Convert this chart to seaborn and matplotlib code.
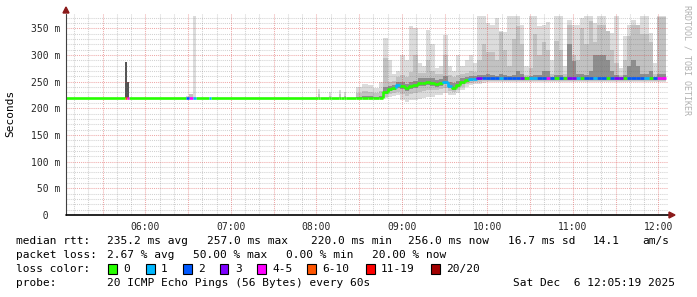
import numpy as np
import pandas as pd
import matplotlib
matplotlib.use("Agg")
import matplotlib.pyplot as plt
import seaborn as sns
from matplotlib.patches import Rectangle

# ---------------- data ----------------
# irregular segments before 08:44 : start time, median rtt (ms), lost pings (of 20), smoke percentiles (ms)
early_start = ["05:04:30", "05:45:50", "05:46:50", "05:47:20", "05:48:40", "06:28:40", "06:31:00",
               "06:33:20", "06:35:40", "06:45:00", "06:46:20", "08:01:00", "08:02:30", "08:09:00",
               "08:10:30", "08:16:00", "08:17:30", "08:19:30", "08:21:00", "08:28:00", "08:32:00",
               "08:36:00", "08:40:00"]
early_median = [220] * 23
early_loss = [0, 10, 4, 4, 0, 2, 4, 1, 0, 1, 0, 0, 0, 0, 0, 0, 0, 0, 0, 0, 0, 0, 0]
early_pmin = [220] * 23
early_p10 = [220] * 23
early_p25 = [220] * 23
early_p75 = [220, 287, 319, 250, 220, 220, 220, 220, 220, 220, 220, 220, 220, 220, 220, 220, 220, 220, 220, 222, 224, 223, 222]
early_p90 = [220, 287, 319, 250, 220, 220, 227, 220, 220, 220, 220, 226, 220, 224, 220, 226, 220, 224, 220, 228, 232, 230, 228]
early_pmax = [220, 287, 319, 250, 220, 223, 227, 374, 220, 220, 220, 236, 220, 230, 220, 234, 220, 230, 220, 240, 246, 244, 238]

# regular 3-minute bins from 08:44 to 12:05
bin_first = "08:44:00"
bin_minutes = 3
end_time = "12:05:00"
bin_median = [220, 231, 236, 238, 244, 242, 238, 242, 244, 248, 248, 249, 248, 246, 247, 250, 242, 239, 244, 250,
              253, 255, 255, 256, 257] + [256] * 42
bin_loss = [0, 0, 0, 0, 1, 0, 0, 0, 0, 0, 0, 0, 0, 0, 0, 1, 1, 0, 0, 0, 0, 1, 1, 3, 2,
            2, 2, 2, 1, 2, 2, 2, 2, 3, 0, 1, 1, 2, 2, 4, 2, 0, 2, 0, 3, 3, 1, 0, 2, 2, 1, 2, 2, 0, 2,
            3, 3, 0, 2, 2, 2, 2, 1, 0, 2, 4, 4]
bin_pmin = [219, 220, 222, 224, 225, 215, 212, 215, 215, 218, 220, 222, 222, 225, 225, 228, 225, 225, 228, 235,
            240, 244, 245, 246, 248] + [249] * 42
bin_p10 = [219, 222, 226, 228, 230, 226, 224, 226, 228, 230, 232, 234, 234, 235, 236, 238, 232, 230, 234, 240,
           245, 248, 250, 250, 252] + [252] * 42
bin_p25 = [220, 226, 232, 234, 238, 236, 232, 236, 238, 242, 242, 244, 242, 240, 242, 245, 238, 235, 240, 246,
           250, 252, 253, 254, 255] + [254] * 42
bin_p75 = [224, 240, 242, 244, 250, 250, 246, 250, 252, 256, 256, 256, 256, 254, 255, 260, 250, 248, 252, 256,
           258, 260, 260, 262, 262,
           265, 262, 260, 265, 262, 260, 262, 270, 265, 258, 260, 262, 262, 270, 270, 258, 262, 262, 258, 320,
           288, 265, 265, 262, 270, 300, 300, 300, 290, 270, 262, 258, 262, 280, 290, 280, 265, 265, 270, 258,
           265, 265]
bin_p90 = [232, 294, 250, 252, 258, 262, 258, 268, 300, 266, 266, 290, 270, 264, 265, 300, 262, 258, 262, 264,
           266, 270, 268, 290, 320,
           305, 305, 290, 343, 310, 280, 330, 355, 320, 262, 275, 340, 300, 324, 310, 265, 326, 310, 265, 357,
           300, 290, 350, 320, 363, 324, 357, 357, 345, 310, 285, 262, 290, 336, 357, 357, 340, 340, 324, 265,
           372, 372]
bin_pmax = [250, 332, 290, 265, 270, 300, 290, 355, 350, 285, 280, 347, 320, 275, 280, 337, 280, 270, 300, 280,
            290, 300, 285, 374, 374,
            360, 357, 370, 345, 343, 374, 374, 374, 356, 280, 374, 374, 354, 357, 361, 290, 374, 374, 280, 365,
            357, 357, 370, 374, 374, 360, 374, 374, 345, 341, 374, 275, 336, 357, 365, 357, 374, 374, 341, 285,
            374, 374]

loss_labels = ["0", "1", "2", "3", "4-5", "6-10", "11-19", "20/20"]
loss_colors = ["#26ff00", "#00b8ff", "#0059ff", "#7e00ff", "#ff00ff", "#ff5500", "#ff0000", "#a10000"]
y_ticks = [0, 50, 100, 150, 200, 250, 300, 350]
y_tick_labels = ["  0  ", " 50 m", "100 m", "150 m", "200 m", "250 m", "300 m", "350 m"]
x_ticks = [6, 7, 8, 9, 10, 11, 12]
x_tick_labels = ["06:00", "07:00", "08:00", "09:00", "10:00", "11:00", "12:00"]

# ---------------- assemble ----------------
def hrs(s):
    h, m, sec = map(int, s.split(":"))
    return h + m / 60 + sec / 3600

n_bins = len(bin_median)
t_start = np.array([hrs(s) for s in early_start] +
                   list(hrs(bin_first) + np.arange(n_bins) * bin_minutes / 60))
t_edges = np.append(t_start, hrs(end_time))
median = np.array(early_median + bin_median, float)
loss = np.array(early_loss + bin_loss)
pmin = np.array(early_pmin + bin_pmin, float)
p10 = np.array(early_p10 + bin_p10, float)
p25 = np.array(early_p25 + bin_p25, float)
p75 = np.array(early_p75 + bin_p75, float)
p90 = np.array(early_p90 + bin_p90, float)
pmax = np.array(early_pmax + bin_pmax, float)


def loss_cat(n):
    if n <= 3:
        return loss_labels[n]
    if n <= 5:
        return "4-5"
    if n <= 10:
        return "6-10"
    if n <= 19:
        return "11-19"
    return "20/20"


rows = []
for i in range(len(median)):
    prev = median[i - 1] if i > 0 else median[i]
    c = loss_cat(int(loss[i]))
    rows += [(i, c, t_edges[i], prev), (i, c, t_edges[i], median[i]), (i, c, t_edges[i + 1], median[i])]
med_df = pd.DataFrame(rows, columns=["seg", "cat", "t", "v"])

# ---------------- figure ----------------
sns.set_theme(style="white")
plt.rcParams["font.family"] = ["DejaVu Sans Mono", "DejaVu Sans"]
W, H = 697, 297
fig = plt.figure(figsize=(W / 100, H / 100), dpi=100)
fig.patch.set_facecolor("white")
ax_l, ax_r, ax_b, ax_t = 66, 668, 215, 14
ax = fig.add_axes([ax_l / W, 1 - ax_b / H, (ax_r - ax_l) / W, (ax_b - ax_t) / H])
ax.set_facecolor("white")
x0 = 6 + (ax_l - 145.3) / 85.53
x1 = 6 + (ax_r - 145.3) / 85.53
ax.set_xlim(x0, x1)
ax.set_ylim(0, (ax_b - ax_t) / 0.5334)


def step(a):
    return np.append(a, a[-1])


ax.fill_between(t_edges, step(pmin), step(pmax), step="post", color="#dcdcdc", lw=0, zorder=1)
ax.fill_between(t_edges, step(p10), step(p90), step="post", color="#c2c2c2", lw=0, zorder=1.1)
ax.fill_between(t_edges, step(p25), step(p75), step="post", color="#8e8e8e", lw=0, zorder=1.2)
# darker smoke for the short high-loss burst
dark = (loss >= 4) & (t_start < 6)
for i in np.where(dark)[0]:
    ax.fill_between([t_edges[i], t_edges[i + 1]], [median[i]] * 2, [pmax[i]] * 2, color="#555555", lw=0, zorder=1.3)

# grid (semi-transparent, drawn over the smoke like rrdtool)
minor_c = (0.45, 0.45, 0.45, 0.32)
major_c = (0.85, 0.2, 0.2, 0.42)
for v in np.arange(10, 380, 10):
    ax.axhline(v, color=major_c if v % 50 == 0 else minor_c, lw=0.75, ls=(0, (1, 1)), zorder=3)
for m in np.arange(10, 430, 10):
    t = 5 + m / 60
    if t < x0 or t > x1:
        continue
    ax.axvline(t, color=major_c if m % 30 == 0 else minor_c, lw=0.75, ls=(0, (1, 1)), zorder=3)

pal = dict(zip(loss_labels, loss_colors))
sns.lineplot(data=med_df, x="t", y="v", hue="cat", units="seg", estimator=None, sort=False,
             palette=pal, legend=False, lw=1.9, ax=ax, zorder=4, solid_capstyle="butt")

for s in ax.spines.values():
    s.set_visible(False)
ax.set_xlabel("")
ax.set_ylabel("")
ax.set_yticks(y_ticks)
ax.set_yticklabels(y_tick_labels, fontsize=7, family="DejaVu Sans Mono")
ax.set_xticks(x_ticks)
ax.set_xticklabels(x_tick_labels, fontsize=7, family="DejaVu Sans Mono")
ax.tick_params(axis="y", length=2, pad=2, color="#444444")
ax.tick_params(axis="x", length=2, pad=3, color="#444444")
ax.grid(False)

# axis lines with arrows
ax.plot([x0, x0], [0, ax.get_ylim()[1]], color="#404040", lw=0.8, zorder=5, clip_on=False)
ax.plot([x0, x1 + 4 / 85.53], [0, 0], color="black", lw=1.2, zorder=5, clip_on=False)
fig.patches.append(plt.Polygon([[(ax_l - 3) / W, 1 - 13 / H], [(ax_l + 3) / W, 1 - 13 / H], [ax_l / W, 1 - 7 / H]],
                               closed=True, transform=fig.transFigure, color="#8b1a1a"))
fig.patches.append(plt.Polygon([[669 / W, 1 - 212 / H], [669 / W, 1 - 218 / H], [675 / W, 1 - 215 / H]],
                               closed=True, transform=fig.transFigure, color="#8b1a1a"))

# labels
fig.text(10.5 / W, 1 - 113.5 / H, "Seconds", rotation=90, fontsize=8, family="DejaVu Sans Mono",
         ha="center", va="center", color="#000000")
fig.text(687.5 / W, 1 - 60 / H, "RRDTOOL / TOBI OETIKER", rotation=270, fontsize=6, family="DejaVu Sans Mono",
         ha="center", va="center", color="#b0b0b0")


def txt(x, y, s):
    fig.text(x / W, 1 - y / H, s, fontsize=8, family="DejaVu Sans Mono", ha="left", va="center", color="#000000")


y1, y2, y3, y4 = 241.3, 255.3, 268.8, 283.5
txt(16, y1, "median rtt:")
for x, s in [(107, "235.2 ms avg"), (207, "257.0 ms max"), (311, "220.0 ms min"), (408, "256.0 ms now"),
             (508, "16.7 ms sd"), (593, "14.1"), (642, "am/s")]:
    txt(x, y1, s)
txt(16, y2, "packet loss:")
for x, s in [(107, "2.67 % avg"), (193, "50.00 % max"), (286, "0.00 % min"), (372, "20.00 % now")]:
    txt(x, y2, s)
txt(16, y3, "loss color:")
box_x = [108, 146, 183, 220, 257, 307, 366, 431]
for bx, lab, col in zip(box_x, loss_labels, loss_colors):
    fig.patches.append(Rectangle((bx / W, 1 - 273.5 / H), 8.5 / W, 9.5 / H, transform=fig.transFigure,
                                 facecolor=col, edgecolor="black", lw=0.8))
    txt(bx + 15, y3, lab)
txt(16, y4, "probe:")
txt(107, y4, "20 ICMP Echo Pings (56 Bytes) every 60s")
txt(513, y4, "Sat Dec  6 12:05:19 2025")

fig.savefig("out.png", dpi=100, facecolor="white")
